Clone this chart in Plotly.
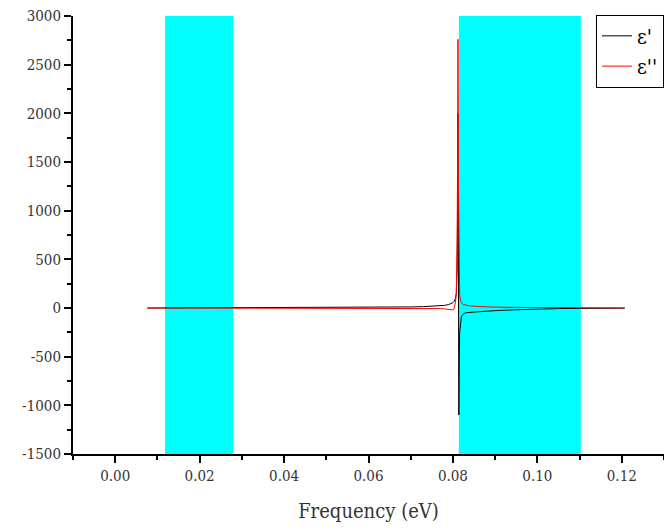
import plotly.graph_objects as go

freq = [0.0076, 0.02, 0.03, 0.04, 0.05, 0.06, 0.065, 0.07, 0.073, 0.075, 0.077, 0.078,
        0.079, 0.0795, 0.080, 0.0803, 0.0806, 0.0808, 0.0810, 0.0811, 0.0812, 0.0813,
        0.0814, 0.0815, 0.0816, 0.0818, 0.082, 0.0825, 0.083, 0.084, 0.086, 0.088,
        0.09, 0.095, 0.10, 0.105, 0.11, 0.115, 0.1207]
eps_real = [0, 1, 2, 3, 4, 6, 8, 11, 14, 17, 22, 27,
            35, 42, 55, 70, 100, 150, 400, 1000, 2000, 500,
            -1100, -500, -250, -130, -90, -60, -50, -45, -38, -32,
            -27, -18, -10, -6, -4, -3, -2]
eps_imag = [0, 0, 0, 0, 0, 0, -1, -2, -3, -4, -6, -9,
            -15, -22, -20, 0, 60, 150, 700, 1500, 2760, 1300,
            400, 200, 130, 80, 55, 35, 28, 22, 15, 11,
            9, 6, 4, 3, 2, 1, 1]
bands = [(0.0118, 0.0280), (0.0814, 0.1103)]
y_tickvals = [-1500, -1000, -500, 0, 500, 1000, 1500, 2000, 2500, 3000]
y_ticktext = ["-1500", "-1000", "-500", "0", "500", "1000", "1500", "2000", "2500", "3000"]

font = "DejaVu Serif Condensed, DejaVu Serif, serif"
txt = "#333333"

fig = go.Figure()
for x0, x1 in bands:
    fig.add_shape(type="rect", x0=x0, x1=x1, y0=-1500, y1=3000, xref="x", yref="y",
                  fillcolor="#00FFFF", line_width=0, layer="below")

fig.add_trace(go.Scatter(x=freq, y=eps_real, mode="lines", name="ε'",
                         line=dict(color="black", width=1)))
fig.add_trace(go.Scatter(x=freq, y=eps_imag, mode="lines", name="ε''",
                         line=dict(color="red", width=1)))

fig.update_layout(
    width=664, height=530,
    margin=dict(l=73, r=0, t=16, b=76, autoexpand=False),
    paper_bgcolor="white", plot_bgcolor="white",
    font=dict(family=font, color=txt, size=15),
    showlegend=True,
    legend=dict(x=1, xanchor="right", y=1.003, yanchor="top",
                bordercolor="black", borderwidth=1, bgcolor="white",
                font=dict(size=21, family=font, color="black"),
                tracegroupgap=0),
    xaxis=dict(range=[-0.01, 0.13], tick0=0, dtick=0.02, tickformat=".2f", automargin=False,
               showgrid=False, zeroline=False, showline=True, linecolor="black",
               linewidth=2, ticks="outside", ticklen=7, tickwidth=1.5, tickcolor="black",
               minor=dict(dtick=0.01, tick0=0, ticks="outside", ticklen=4, tickcolor="black", tickwidth=1.5),
               title=dict(text="Frequency (eV)", font=dict(size=20, family=font, color=txt), standoff=20)),
    yaxis=dict(range=[-1500, 3000], tickvals=y_tickvals, ticktext=y_ticktext, automargin=False,
               showgrid=False, zeroline=False, showline=True, linecolor="black",
               linewidth=2, ticks="outside", ticklen=7, tickwidth=1.5, tickcolor="black",
               minor=dict(dtick=250, ticks="outside", ticklen=4, tickcolor="black", tickwidth=1.5)),
)

fig.write_html("out.html", config={"displayModeBar": False},
               post_script="document.body.style.margin='0';document.body.style.overflow='hidden';")
